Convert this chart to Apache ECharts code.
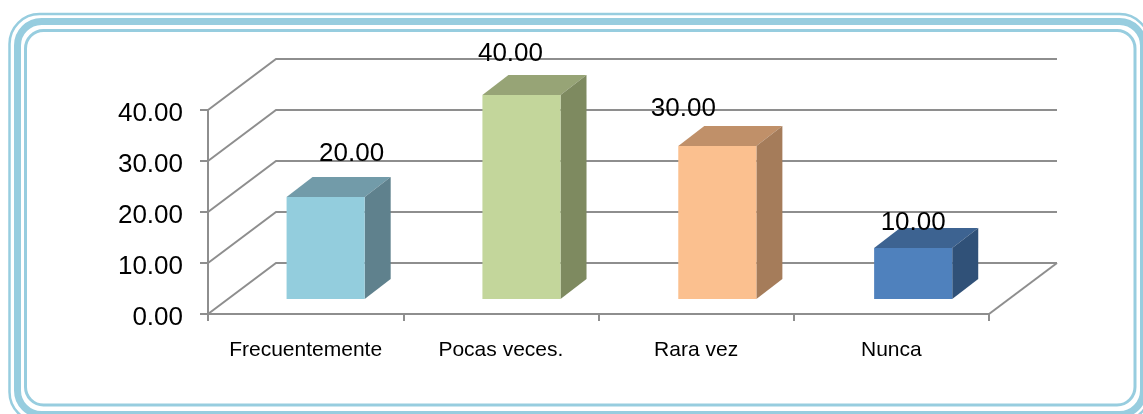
<!DOCTYPE html>
<html>
<head>
<meta charset="utf-8">
<script src="https://cdn.jsdelivr.net/npm/echarts@6/dist/echarts.min.js"></script>
<style>
  html, body { margin: 0; padding: 0; background: #fff; }
  #chart { width: 1143px; height: 414px; }
</style>
</head>
<body>
<div id="chart"></div>
<script>
const categories = ['Frecuentemente', 'Pocas veces.', 'Rara vez', 'Nunca']
const values = [20, 40, 30, 10]
const yTicks = [0, 10, 20, 30, 40]

const frontColors = ['#93CDDD', '#C3D69B', '#FBC08F', '#4F81BD']
const topColors = ['#729BA9', '#97A476', '#C09069', '#3D6391']
const sideColors = ['#5F818D', '#7E8A60', '#A57C5A', '#305178']
// labels sit by hand in the original, not over the bars
const labelShift = [[26, -43], [-11, -41], [-34, -37], [0, -25]]

const gridColor = '#8E8E8E'
const frameColor = '#97CDDF'
const font = '"Liberation Sans", Arial, sans-serif'
const wallDx = 68
const wallDy = -51

const renderWall = (params, api) => {
  const box = params.coordSys
  const y = api.coord([0, api.value(0)])[1]
  const right = box.x + box.width
  const children = [{
    type: 'polyline',
    shape: { points: [[box.x, y], [box.x + wallDx, y + wallDy], [right + wallDx, y + wallDy]] },
    style: { stroke: gridColor, lineWidth: 2, fill: null }
  }, {
    // tick label, the axis label can't be pushed below its tick
    type: 'text',
    style: {
      x: box.x - 25,
      y: y + 4,
      text: api.value(0).toFixed(2),
      font: '26px ' + font,
      fill: '#000',
      align: 'right',
      verticalAlign: 'middle'
    }
  }]
  if (api.value(0) === 0) {
    children.push({
      type: 'line',
      shape: { x1: right, y1: y, x2: right + wallDx, y2: y + wallDy },
      style: { stroke: gridColor, lineWidth: 2 }
    })
  }
  return { type: 'group', children }
}

const renderBar = (params, api) => {
  const i = api.value(0)
  const base = api.coord([i, 0])
  const top = api.coord([i, api.value(1)])
  const band = api.size([1, 0])[0]
  const w = band * 0.4
  const dx = 26
  const dy = -20
  // bars drift a little to the right of the bands in the original
  const left = base[0] + 20 + i * 0.6 - w / 2
  const right = left + w
  const y0 = base[1] - 15
  const y1 = top[1] - 15
  return {
    type: 'group',
    children: [
      { type: 'polygon', shape: { points: [[left, y1], [right, y1], [right + dx, y1 + dy], [left + dx, y1 + dy]] }, style: { fill: topColors[i] } },
      { type: 'polygon', shape: { points: [[right, y0], [right, y1], [right + dx, y1 + dy], [right + dx, y0 + dy]] }, style: { fill: sideColors[i] } },
      { type: 'rect', shape: { x: left, y: y1, width: w, height: y0 - y1 }, style: { fill: frontColors[i] } },
      {
        type: 'text',
        z2: 10,
        style: {
          x: left + w / 2 + labelShift[i][0],
          y: y1 + labelShift[i][1],
          text: api.value(1).toFixed(2),
          font: '26px ' + font,
          fill: '#000',
          align: 'center',
          verticalAlign: 'middle'
        }
      }
    ]
  }
}

const chart = echarts.init(document.getElementById('chart'))
chart.setOption({
  animation: false,
  backgroundColor: '#fff',
  graphic: [
    { type: 'rect', shape: { x: 9.5, y: 14, width: 1140, height: 408, r: 30 }, style: { fill: 'none', stroke: frameColor, lineWidth: 2.5 } },
    { type: 'rect', shape: { x: 17.5, y: 21.5, width: 1126, height: 393, r: 24 }, style: { fill: 'none', stroke: frameColor, lineWidth: 7 } },
    { type: 'rect', shape: { x: 25.5, y: 30.5, width: 1109.5, height: 374.5, r: 18 }, style: { fill: 'none', stroke: frameColor, lineWidth: 3 } }
  ],
  grid: { left: 208, top: 110, width: 781, height: 204 },
  xAxis: {
    type: 'category',
    data: categories,
    axisLine: { lineStyle: { color: gridColor, width: 2 } },
    axisTick: { show: true, length: 7, lineStyle: { color: gridColor, width: 2 } },
    axisLabel: { color: '#000', fontFamily: font, fontSize: 21, margin: 26, interval: 0 }
  },
  yAxis: {
    type: 'value',
    min: 0,
    max: 40,
    interval: 10,
    axisLine: { show: true, lineStyle: { color: gridColor, width: 2 } },
    axisTick: { show: true, length: 8, lineStyle: { color: gridColor, width: 2 } },
    axisLabel: { show: false },
    splitLine: { show: false }
  },
  series: [
    { type: 'custom', renderItem: renderWall, data: yTicks.map((v) => [v]), encode: { y: 0 }, z: 1, silent: true },
    { type: 'custom', renderItem: renderBar, data: values.map((v, i) => [i, v]), encode: { x: 0, y: 1 }, z: 3, silent: true }
  ]
})
window.addEventListener('resize', () => {
  chart.resize()
})
</script>
</body>
</html>
